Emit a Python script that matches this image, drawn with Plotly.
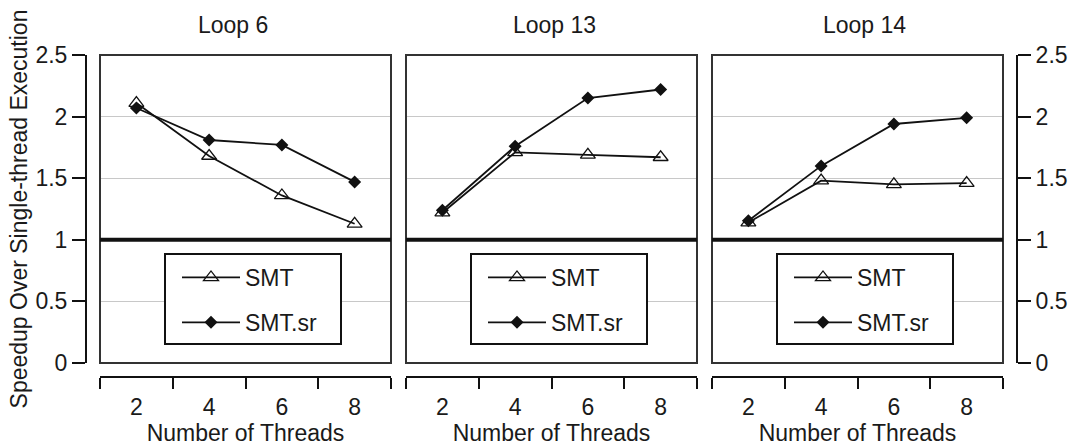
import plotly.graph_objects as go

# ---- data ----
threads = ["2", "4", "6", "8"]
panel_titles = ["Loop 6", "Loop 13", "Loop 14"]
series_names = ["SMT", "SMT.sr"]
loop6_smt = [2.11, 1.68, 1.36, 1.13]
loop6_sr = [2.07, 1.81, 1.77, 1.47]
loop13_smt = [1.22, 1.71, 1.69, 1.67]
loop13_sr = [1.24, 1.76, 2.15, 2.22]
loop14_smt = [1.14, 1.48, 1.45, 1.46]
loop14_sr = [1.155, 1.60, 1.94, 1.99]
baseline = 1.0
y_ticks = [0, 0.5, 1, 1.5, 2, 2.5]
y_tick_labels = ["0", "0.5", "1", "1.5", "2", "2.5"]

W, H = 1070, 446
def fx(px):
    return px / W
def fy(py):
    return 1 - py / H

FONT = "Liberation Sans, Arial, Helvetica, sans-serif"
TXT = "#1a1a1a"
FS = 23

panels = [
    (loop6_smt, loop6_sr, 100, 391, 233),
    (loop13_smt, loop13_sr, 406, 697, 554),
    (loop14_smt, loop14_sr, 712, 1003, 864),
]

fig = go.Figure()
layout = dict(
    width=W, height=H,
    margin=dict(l=0, r=0, t=0, b=0, autoexpand=False),
    paper_bgcolor="white", plot_bgcolor="white",
    font=dict(family=FONT, size=FS, color=TXT),
    showlegend=True,
)
shapes = []
annotations = []
ydom = [fy(363), fy(55)]

for i, (smt, sr, x0, x1, tcx) in enumerate(panels):
    n = "" if i == 0 else str(i + 1)
    xa, ya = "x" + n, "y" + n
    lg = "legend" + n
    fig.add_trace(go.Scatter(
        x=threads, y=smt, name=series_names[0], mode="lines+markers",
        xaxis=xa, yaxis=ya, legend=lg, legendgroup=f"a{i}",
        line=dict(color="#111", width=1.8),
        marker=dict(symbol="triangle-up-open", size=13, color="#111", line=dict(width=1.3, color="#111")),
    ))
    fig.add_trace(go.Scatter(
        x=threads, y=sr, name=series_names[1], mode="lines+markers",
        xaxis=xa, yaxis=ya, legend=lg, legendgroup=f"b{i}",
        line=dict(color="#111", width=1.8),
        marker=dict(symbol="diamond", size=10, color="#111"),
    ))
    layout["xaxis" + n] = dict(
        domain=[fx(x0), fx(x1)], anchor="free", position=fy(377), automargin=False,
        type="category", categoryorder="array", categoryarray=threads,
        range=[-0.5, 3.5], tickson="boundaries",
        ticks="outside", ticklen=11, tickwidth=1.5, tickcolor="#111",
        showline=True, linecolor="#111", linewidth=2,
        showgrid=False, zeroline=False, ticklabelstandoff=9,
        tickfont=dict(size=FS, family=FONT, color=TXT),
        title=dict(text="Number of Threads", font=dict(size=FS, family=FONT, color=TXT), standoff=10),
    )
    yax = dict(
        domain=ydom, range=[0, 2.5], tickvals=y_ticks, ticktext=y_tick_labels,
        showgrid=True, gridcolor="#c8c8c8", gridwidth=1, zeroline=False, automargin=False,
        tickfont=dict(size=FS, family=FONT, color=TXT),
    )
    if i == 0:
        yax.update(anchor="free", position=fx(86), side="left", ticks="outside",
                   ticklen=13, tickwidth=1.5, tickcolor="#111", showline=True,
                   linecolor="#111", linewidth=2, showticklabels=True,
                   title=dict(text="Speedup Over Single-thread Execution",
                              font=dict(size=FS, family=FONT, color=TXT), standoff=0))
    elif i == 2:
        yax.update(anchor="free", position=fx(1017), side="right", ticks="outside",
                   ticklen=13, tickwidth=1.5, tickcolor="#111", showline=True,
                   linecolor="#111", linewidth=2, showticklabels=True)
    else:
        yax.update(anchor="x" + n, showticklabels=False, ticks="", showline=False)
    layout["yaxis" + n] = yax

    # plot frame
    shapes.append(dict(type="rect", xref=f"{xa} domain", yref=f"{ya} domain",
                       x0=0, x1=1, y0=0, y1=1, line=dict(color="#333", width=2), layer="above"))
    # baseline at speedup 1
    shapes.append(dict(type="line", xref=f"{xa} domain", yref=ya, x0=0, x1=1,
                       y0=baseline, y1=baseline, line=dict(color="#111", width=4), layer="above"))
    # legend box
    shapes.append(dict(type="rect", xref="paper", yref="paper",
                       x0=fx(x0 + 65), x1=fx(x0 + 241), y0=fy(344), y1=fy(254),
                       line=dict(color="#111", width=2), fillcolor="white", layer="above"))
    annotations.append(dict(text=panel_titles[i], xref="paper", yref="paper",
                            x=fx(tcx), y=fy(25), xanchor="center", yanchor="middle",
                            showarrow=False, font=dict(size=FS, family=FONT, color=TXT)))
    layout[lg] = dict(
        x=fx(x0 + 77), y=fy(256), xanchor="left", yanchor="top",
        xref="paper", yref="paper",
        bgcolor="rgba(0,0,0,0)", borderwidth=0,
        font=dict(size=FS, family=FONT, color=TXT),
        traceorder="grouped", tracegroupgap=12, itemwidth=58,
    )

layout["shapes"] = shapes
layout["annotations"] = annotations
fig.update_layout(**layout)
fig.write_html("out.html", config={"displayModeBar": False},
               post_script="document.body.style.margin='0px';")
